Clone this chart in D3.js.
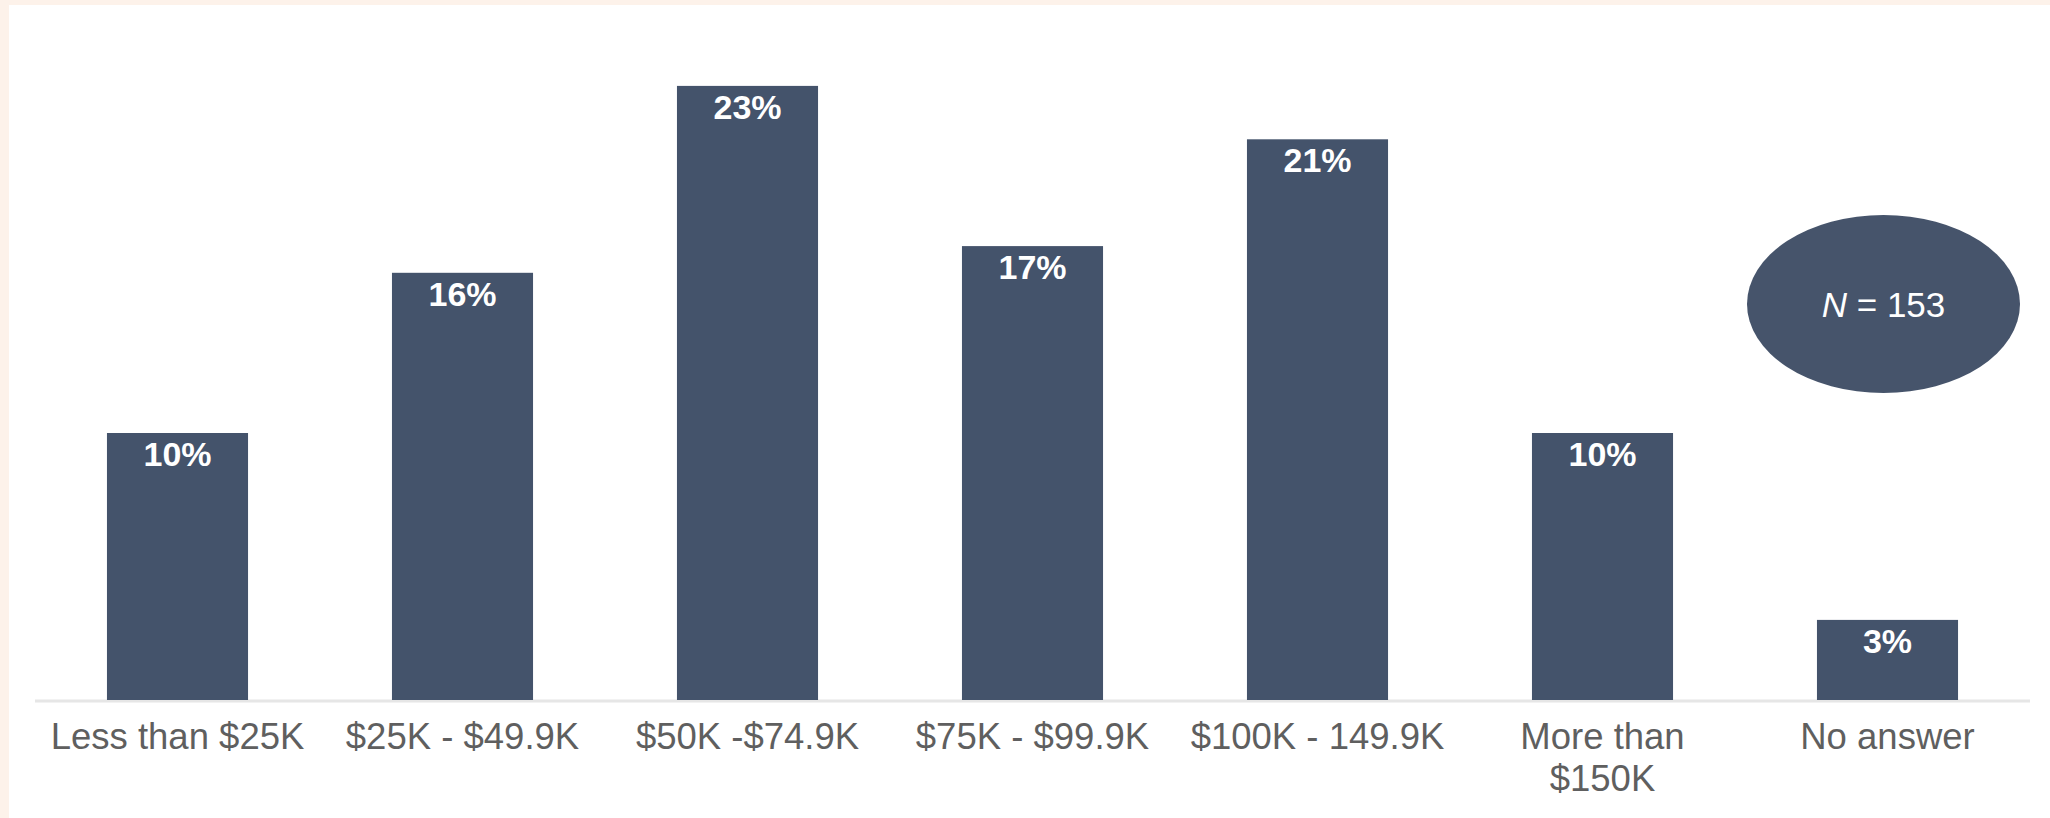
<!DOCTYPE html>
<html>
<head>
<meta charset="utf-8">
<script src="https://cdn.jsdelivr.net/npm/d3@7/dist/d3.min.js"></script>
<style>
  html, body { margin: 0; padding: 0; background: #ffffff; }
  svg { display: block; }
</style>
</head>
<body>
<svg id="chart" width="2050" height="818"></svg>
<script>
// Household income distribution of respondents
const categories = [
  ["Less than $25K"],
  ["$25K - $49.9K"],
  ["$50K -$74.9K"],
  ["$75K - $99.9K"],
  ["$100K - 149.9K"],
  ["More than", "$150K"],
  ["No answer"]
];
const shares = [10, 16, 23, 17, 21, 10, 3];
const sampleSize = 153;

const W = 2050, H = 818;
const barColor = "#44536b";
const svg = d3.select("#chart");

// page background with warm border strips on the top and left
svg.append("rect").attr("width", W).attr("height", H).attr("fill", "#fdf2ea");
svg.append("rect").attr("x", 9).attr("y", 5).attr("width", W - 9).attr("height", H - 5).attr("fill", "#ffffff");

const keys = categories.map(c => c.join(" "));
const x = d3.scaleBand().domain(keys).range([35, 2030]).paddingInner(0.505).paddingOuter(0.2525);
const y = d3.scaleLinear().domain([0, 25]).range([700, 700 - 25 * 26.7]);

// baseline
svg.append("line")
  .attr("x1", 35).attr("x2", 2030)
  .attr("y1", y(0) + 1).attr("y2", y(0) + 1)
  .attr("stroke", "#e6e6e6").attr("stroke-width", 3);

// bars
svg.selectAll("rect.bar").data(shares).join("rect")
  .attr("class", "bar")
  .attr("x", (d, i) => x(keys[i]))
  .attr("y", d => y(d))
  .attr("width", x.bandwidth())
  .attr("height", d => y(0) - y(d))
  .attr("fill", barColor);

// value labels inside the top of each bar
svg.selectAll("text.val").data(shares).join("text")
  .attr("class", "val")
  .attr("x", (d, i) => x(keys[i]) + x.bandwidth() / 2)
  .attr("y", d => y(d) + 33)
  .attr("text-anchor", "middle")
  .attr("font-family", "Liberation Sans, Arial, sans-serif")
  .attr("font-weight", "bold")
  .attr("font-size", 34)
  .attr("fill", "#ffffff")
  .text(d => d + "%");

// category labels, wrapped where needed
const labels = svg.selectAll("text.cat").data(categories).join("text")
  .attr("class", "cat")
  .attr("x", (d, i) => x(keys[i]) + x.bandwidth() / 2)
  .attr("y", 749)
  .attr("text-anchor", "middle")
  .attr("font-family", "Liberation Sans, Arial, sans-serif")
  .attr("font-size", 36.5)
  .attr("fill", "#5f5f5f");
labels.each(function (d, i) {
  const t = d3.select(this);
  d.forEach((line, j) => {
    t.append("tspan")
      .attr("x", x(keys[i]) + x.bandwidth() / 2)
      .attr("dy", j === 0 ? 0 : 42)
      .text(line);
  });
});

// sample size badge
const badge = svg.append("g").attr("transform", "translate(1883.5,304)");
badge.append("ellipse").attr("rx", 136.5).attr("ry", 89).attr("fill", "#46546b");
const nt = badge.append("text")
  .attr("y", 13)
  .attr("text-anchor", "middle")
  .attr("font-family", "Liberation Sans, Arial, sans-serif")
  .attr("font-size", 35)
  .attr("fill", "#ffffff");
nt.append("tspan").attr("font-style", "italic").text("N");
nt.append("tspan").text(" = " + sampleSize);
</script>
</body>
</html>
